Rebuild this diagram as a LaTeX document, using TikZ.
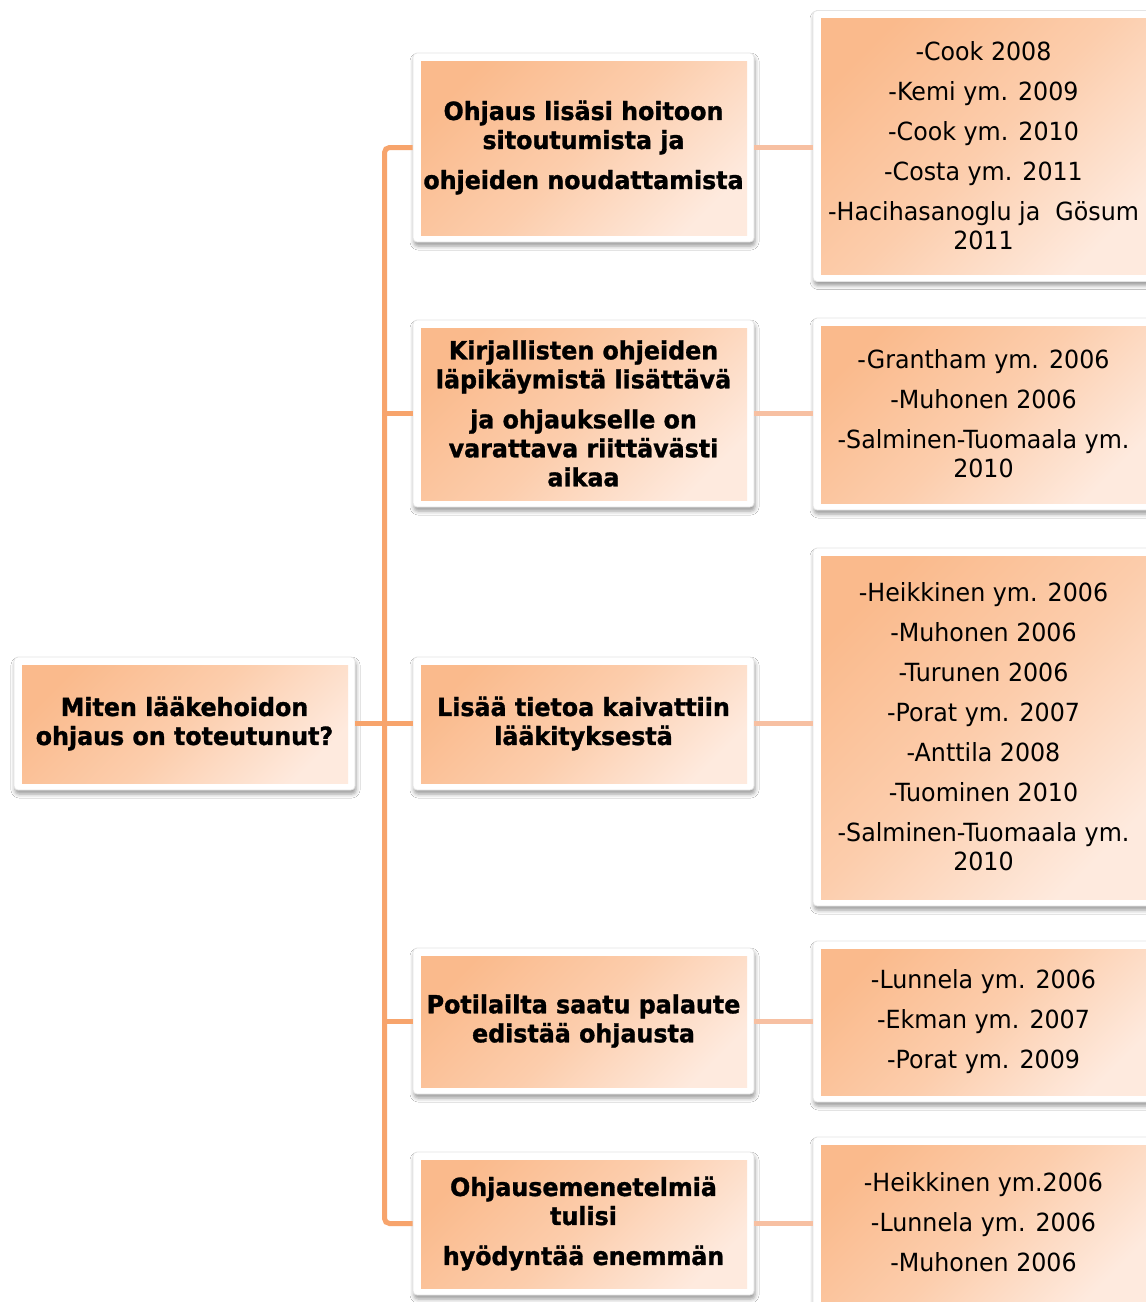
\documentclass[tikz,border=0pt]{standalone}
\usepackage{fontspec}
\setmainfont[FakeStretch=0.95, BoldFeatures={FakeBold=1.2}]{DejaVu Sans}
\usetikzlibrary{calc,shadows.blur}

\definecolor{spineclr}{RGB}{247,164,108}
\definecolor{linkclr}{RGB}{247,192,162}
\definecolor{peachdark}{RGB}{250,186,140}
\definecolor{peachmid}{RGB}{252,205,172}
\definecolor{peachlight}{RGB}{254,234,222}
\definecolor{frameedge}{RGB}{228,228,228}

\tikzset{
  card/.style={
    draw=frameedge, line width=0.8pt, fill=white, rounded corners=4pt,
    minimum width=341pt, inner sep=0pt, align=center,
    font=\fontsize{25}{29}\selectfont,
    blur shadow={shadow xshift=1pt, shadow yshift=-4pt,
                 shadow blur radius=4pt, shadow opacity=40},
    path picture={
      \shade[sharp corners, top color=peachdark, bottom color=peachlight,
             middle color=peachmid, shading angle=45]
        ($(path picture bounding box.north west)+(8,8)$) rectangle
        ($(path picture bounding box.south east)+(-7,-7)$);
    }
  },
  topic/.style={card, font=\fontsize{25}{29}\selectfont\bfseries},
  refs/.style={card},
  spineline/.style={draw=spineclr, line width=5pt},
  linkline/.style={draw=linkclr, line width=5pt}
}

\begin{document}
\begin{tikzpicture}[x=1pt, y=-1pt]
  \useasboundingbox (0,0) rectangle (1146,1302);
  \fill[white] (0,0) rectangle (1146,1302);

  % root question
  \node[topic, minimum height=133pt] (q) at (184.5,723.5)
    {Miten lääkehoidon\\ohjaus on toteutunut?};

  % findings
  \node[topic, minimum height=189pt] (m1) at (583.5,147.5)
    {Ohjaus lisäsi hoitoon\\sitoutumista ja\\[11pt]ohjeiden noudattamista};
  \node[topic, minimum height=187pt] (m2) at (583.5,413.5)
    {Kirjallisten ohjeiden\\läpikäymistä lisättävä\\[11pt]ja ohjaukselle on\\varattava riittävästi\\aikaa};
  \node[topic, minimum height=133pt] (m3) at (583.5,723.5)
    {Lisää tietoa kaivattiin\\lääkityksestä};
  \node[topic, minimum height=146pt] (m4) at (583.5,1021)
    {Potilailta saatu palaute\\edistää ohjausta};
  \node[topic, minimum height=143pt] (m5) at (583.5,1223.5)
    {Ohjausemenetelmiä\\tulisi\\[11pt]hyödyntää enemmän};

  % sources
  \node[refs, minimum height=271pt] (r1) at (983.5,146)
    {-Cook 2008\\[11pt]-Kemi ym. 2009\\[11pt]-Cook ym. 2010\\[11pt]-Costa ym. 2011\\[11pt]-Hacihasanoglu ja~ Gösum\\2011};
  \node[refs, minimum height=192pt] (r2) at (983.5,414)
    {-Grantham ym. 2006\\[11pt]-Muhonen 2006\\[11pt]-Salminen-Tuomaala ym.\\2010};
  \node[refs, minimum height=358pt] (r3) at (983.5,727)
    {-Heikkinen ym. 2006\\[11pt]-Muhonen 2006\\[11pt]-Turunen 2006\\[11pt]-Porat ym. 2007\\[11pt]-Anttila 2008\\[11pt]-Tuominen 2010\\[11pt]-Salminen-Tuomaala ym.\\2010};
  \node[refs, minimum height=161pt] (r4) at (983.5,1021.5)
    {-Lunnela ym. 2006\\[11pt]-Ekman ym. 2007\\[11pt]-Porat ym. 2009};
  \node[refs, minimum height=171pt] (r5) at (983.5,1222.5)
    {-Heikkinen ym.2006\\[11pt]-Lunnela ym. 2006\\[11pt]-Muhonen 2006};

  % tree connectors
  \coordinate (sp) at (384.5,723.5);
  \draw[spineline, rounded corners=5pt] (m1.west) -| (sp) |- (m5.west);
  \draw[spineline] (q.east) -- (m3.west);
  \draw[spineline] (m2.west -| sp) -- (m2.west);
  \draw[spineline] (m4.west -| sp) -- (m4.west);

  % links to sources
  \draw[linkline] (m1.east) -- (m1.east -| r1.west);
  \draw[linkline] (m2.east) -- (m2.east -| r2.west);
  \draw[linkline] (m3.east) -- (m3.east -| r3.west);
  \draw[linkline] (m4.east) -- (m4.east -| r4.west);
  \draw[linkline] (m5.east) -- (m5.east -| r5.west);
\end{tikzpicture}
\end{document}
